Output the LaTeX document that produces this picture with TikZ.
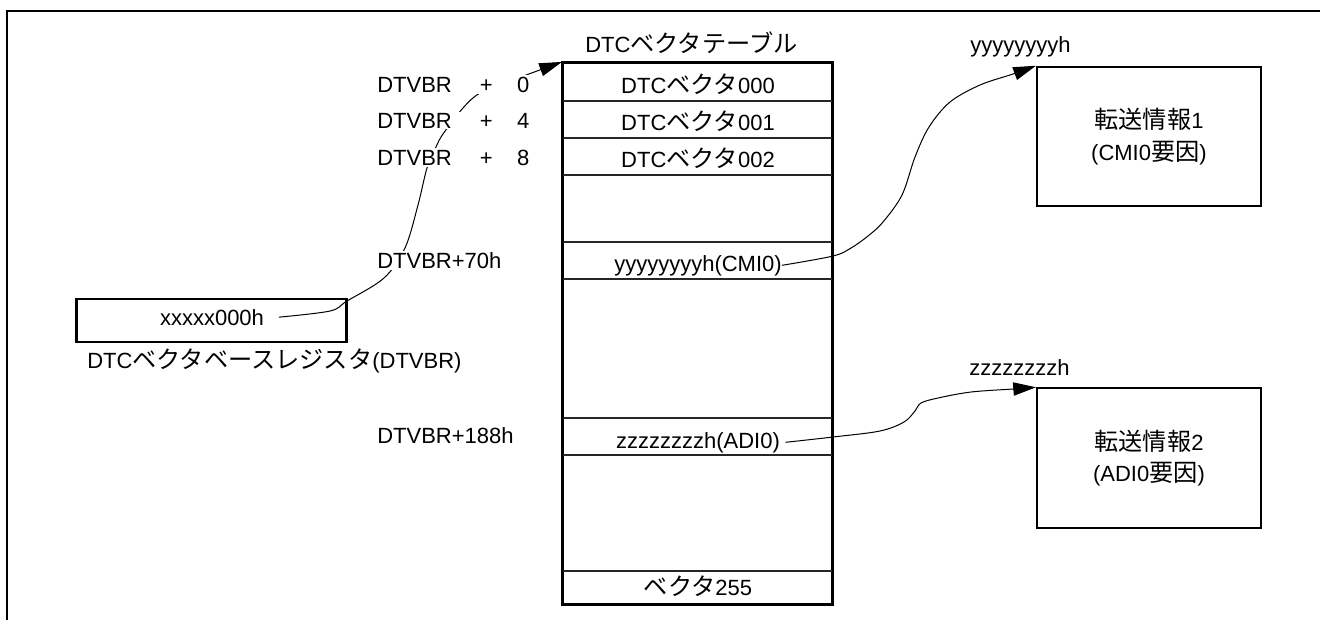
\documentclass[tikz,border=0pt]{standalone}
\usepackage{fontspec}
\setmainfont{Liberation Sans}
\newfontfamily\jp[Scale=1.1]{Noto Sans CJK JP}
\usetikzlibrary{arrows.meta}
\begin{document}
\begin{tikzpicture}[x=0.75pt,y=-0.75pt,
  font=\fontsize{16.5}{20}\selectfont,
  boxline/.style={line width=1.6pt},
  rowline/.style={line width=0.8pt, draw=black!85},
  conn/.style={line width=0.75pt},
  arr/.style={conn,-{Triangle[length=17pt,width=10pt]}},
  lbl/.style={inner sep=0pt, anchor=base west},
  cover/.style={lbl, fill=white, inner ysep=1pt},
  cell/.style={inner sep=0pt, anchor=base},
  infobox/.style={draw, boxline, minimum width=168pt, minimum height=104.5pt,
    align=center, font=\fontsize{16.5}{23.5}\selectfont},
]
\useasboundingbox (0,0) rectangle (1320,619);
% frame
\draw[line width=1.5pt] (7,625) -- (7,11) -- (1325,11);

% vector table
\node[draw, boxline, minimum width=201.75pt, minimum height=405.75pt, inner sep=0pt] (table) at (697.5,333.5) {};
\foreach \yy in {101,138,175,242,279,418,455,571}
  \draw[rowline] (table.west |- 0,\yy) -- (table.east |- 0,\yy);
\draw[boxline] (table.north west) rectangle (table.south east);

\node[lbl] (title) at (585,52) {DTC{\jp ベクタテーブル}};
\node[cell] (v000) at (698,93) {DTC{\jp ベクタ}000};
\node[cell] (v001) at (698,130) {DTC{\jp ベクタ}001};
\node[cell] (v002) at (698,167) {DTC{\jp ベクタ}002};
\node[cell] (vcmi) at (698,271) {yyyyyyyyh(CMI0)};
\node[cell, inner xsep=4pt] (vadi) at (698,448) {zzzzzzzzh(ADI0)};
\node[cell] (v255) at (698,595) {{\jp ベクタ}255};

% register
\node[draw, boxline, minimum width=202.5pt, minimum height=32.25pt] (reg) at (211.5,320.5) {};
\node[cell, inner xsep=11pt] (regtext) at (212,325) {xxxxx000h};
\node[lbl] (reglbl) at (87,368) {DTC{\jp ベクタベースレジスタ}(DTVBR)};

% transfer info boxes
\node[infobox] (info1) at (1149,136.5) {{\jp 転送情報}1\\(CMI0{\jp 要因})};
\node[infobox] (info2) at (1149,458) {{\jp 転送情報}2\\(ADI0{\jp 要因})};
\node[lbl] (ylbl) at (970,52) {yyyyyyyyh};
\node[lbl] (zlbl) at (969,375) {zzzzzzzzh};

% connectors
\draw[arr] plot[smooth, tension=0.55] coordinates {(regtext.east) (330,311) (347,301) (384,278) (405,248) (418,205) (427,168) (436,147) (443,134) (463,108) (480,93) (510,81) (table.north west)};
\draw[arr] plot[smooth, tension=0.55] coordinates {(vcmi.east) (833,256) (851,248) (868,236) (883,222) (902,195) (915,157) (929,127) (950,102) (980,85) (1013,74) (info1.north west)};
\draw[arr] plot[smooth, tension=0.55] coordinates {(vadi.east) (833,437) (880,431) (904,422) (915,411) (921,403) (938,398) (971,392) (1013,389) (info2.north west)};

% offset labels (cover the connector)
\node[cover] (o0) at (377,92) {DTVBR\hspace{21pt}+\hspace{18.4pt}0};
\node[cover] (o4) at (377,128) {DTVBR\hspace{21pt}+\hspace{18.4pt}4};
\node[cover] (o8) at (377,165) {DTVBR\hspace{21pt}+\hspace{18.4pt}8};
\node[cover] (o70) at (377,268) {DTVBR+70h};
\node[lbl] (o188) at (377,443) {DTVBR+188h};
\end{tikzpicture}
\end{document}
